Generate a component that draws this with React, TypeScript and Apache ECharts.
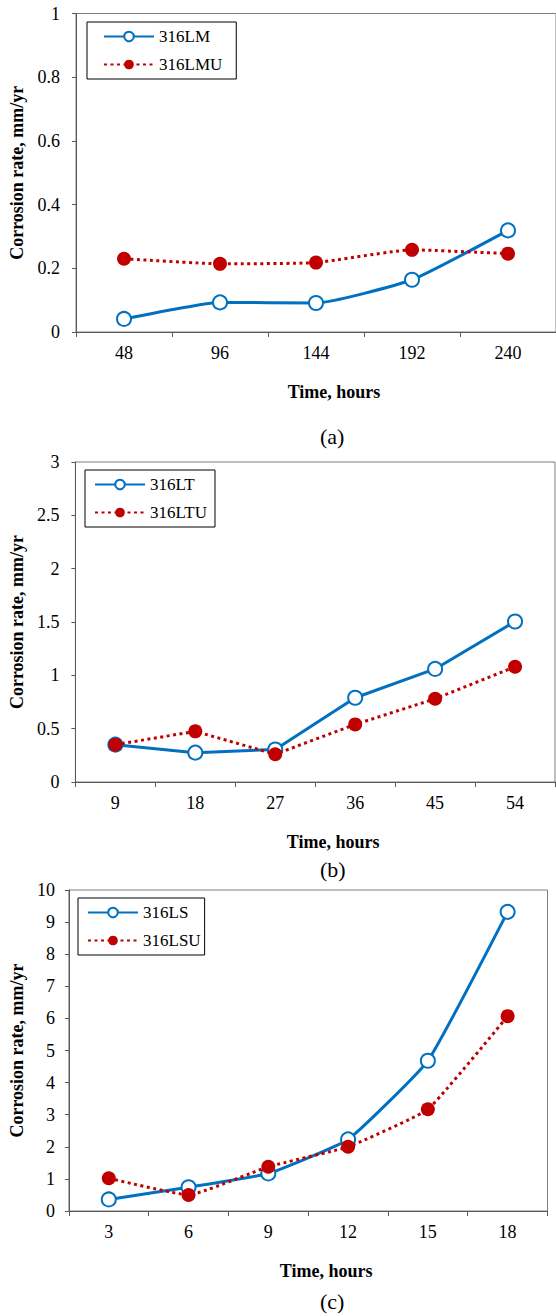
import React, { useEffect, useRef } from "react";
import * as echarts from "echarts";

const catsA = ["48", "96", "144", "192", "240"];
const lmA = [0.041, 0.093, 0.091, 0.164, 0.319];
const lmuA = [0.23, 0.214, 0.218, 0.258, 0.246];

const catsB = ["9", "18", "27", "36", "45", "54"];
const ltB = [0.35, 0.275, 0.305, 0.79, 1.06, 1.505];
const ltuB = [0.35, 0.475, 0.26, 0.54, 0.78, 1.08];

const catsC = ["3", "6", "9", "12", "15", "18"];
const lsC = [0.36, 0.74, 1.17, 2.23, 4.68, 9.32];
const lsuC = [1.02, 0.5, 1.38, 2.0, 3.17, 6.07];

const yTitle = "Corrosion rate, mm/yr";
const xTitle = "Time, hours";
const captions = ["(a)", "(b)", "(c)"];

const FONT = "Liberation Serif";
const BLUE = "#0070C0";
const RED = "#C00000";
const AXIS = "#595959";

export default function App() {
  const ref = useRef<HTMLDivElement>(null);
  useEffect(() => {
    document.body.style.margin = "0";
    const chart = echarts.init(ref.current!, null, { renderer: "svg" });

    const grids = [
      { left: 76, top: 13.5, width: 482.5, height: 318.5 },
      { left: 74.5, top: 462, width: 480.5, height: 320 },
      { left: 67.5, top: 890, width: 480, height: 321 },
    ];
    const cats = [catsA, catsB, catsC];
    const yMax = [1, 3, 10];
    const yInt = [0.2, 0.5, 1];
    const yGap = [50, 46, 42];
    const yLabelMargin = [16, 16, 14];
    const smooth = [0.15, false, 0.12];
    const seriesData = [
      [lmA, lmuA],
      [ltB, ltuB],
      [lsC, lsuC],
    ];
    const names = [
      ["316LM", "316LMU"],
      ["316LT", "316LTU"],
      ["316LS", "316LSU"],
    ];
    const legendPos = [
      { left: 87, top: 22, padding: [6, 14, 6, 16] },
      { left: 85, top: 470, padding: [6, 8, 6, 9] },
      { left: 78, top: 898, padding: [6, 4, 6, 9] },
    ];
    const captionY = [437, 870, 1302];

    const xAxis = cats.map((c, i) => ({
      type: "category",
      gridIndex: i,
      data: c,
      boundaryGap: true,
      axisLine: { lineStyle: { color: AXIS, width: 1 } },
      axisTick: { show: true, length: 5, lineStyle: { color: AXIS } },
      axisLabel: { color: "#000", fontFamily: FONT, fontSize: 18, margin: 12 },
      name: xTitle,
      nameLocation: "middle",
      nameGap: 51,
      nameTextStyle: {
        color: "#000",
        fontFamily: FONT,
        fontSize: 18,
        fontWeight: "bold",
        padding: [0, 0, 0, 36],
      },
      splitLine: { show: false },
    }));

    const yAxis = cats.map((_, i) => ({
      type: "value",
      gridIndex: i,
      min: 0,
      max: yMax[i],
      interval: yInt[i],
      axisLine: { show: true, lineStyle: { color: AXIS, width: 1 } },
      axisTick: { show: true, length: 4, lineStyle: { color: AXIS } },
      axisLabel: { color: "#000", fontFamily: FONT, fontSize: 18, margin: yLabelMargin[i] },
      splitLine: { show: false },
      name: yTitle,
      nameLocation: "middle",
      nameGap: yGap[i],
      nameTextStyle: {
        color: "#000",
        fontFamily: FONT,
        fontSize: 18,
        fontWeight: "bold",
      },
    }));

    const series: any[] = [];
    seriesData.forEach((pair, i) => {
      series.push({
        name: names[i][0],
        type: "line",
        xAxisIndex: i,
        yAxisIndex: i,
        data: pair[0],
        smooth: smooth[i],
        symbol: "emptyCircle",
        symbolSize: 14,
        showAllSymbol: true,
        lineStyle: { color: BLUE, width: 3 },
        itemStyle: { color: BLUE, borderColor: BLUE, borderWidth: 1.2 },
        z: 2,
      });
      series.push({
        name: names[i][1],
        type: "line",
        xAxisIndex: i,
        yAxisIndex: i,
        data: pair[1],
        smooth: smooth[i],
        symbol: "circle",
        symbolSize: 14,
        showAllSymbol: true,
        lineStyle: { color: RED, width: 3, type: [3, 3.5] },
        itemStyle: { color: RED },
        z: 3,
      });
    });

    const legend = names.map((n, i) => ({
      data: n,
      orient: "vertical",
      left: legendPos[i].left,
      top: legendPos[i].top,
      padding: legendPos[i].padding,
      itemGap: 11,
      itemWidth: 50,
      itemHeight: 12,
      borderColor: "#000",
      borderWidth: 1,
      textStyle: { color: "#000", fontFamily: FONT, fontSize: 17, lineHeight: 17 },
      selectedMode: false,
    }));

    chart.setOption({
      animation: false,
      backgroundColor: "#fff",
      grid: grids.map((g) => ({
        ...g,
        show: true,
        borderColor: "#7f7f7f",
        borderWidth: 1,
        backgroundColor: "transparent",
      })),
      xAxis,
      yAxis,
      legend,
      series,
      graphic: captions.map((c, i) => ({
        type: "text",
        left: 320,
        top: captionY[i] - 12,
        style: { text: c, fill: "#000", fontFamily: FONT, fontSize: 22 },
      })),
    });
    return () => chart.dispose();
  }, []);
  return <div ref={ref} style={{ width: 556, height: 1316 }} />;
}
